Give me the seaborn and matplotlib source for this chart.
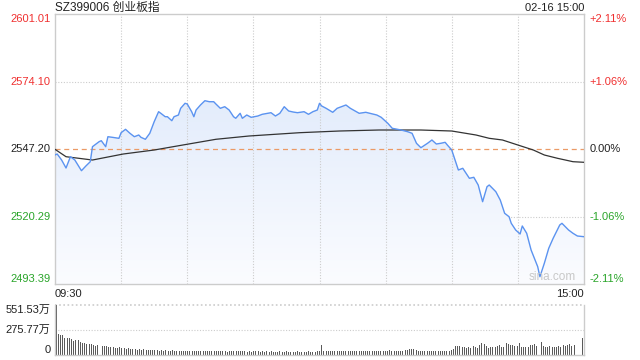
"""
Intraday chart: SZ399006 创业板指 (price + avg line + volume)
"""

import numpy as np
import pandas as pd
import matplotlib
matplotlib.use("Agg")
import matplotlib.pyplot as plt
import seaborn as sns
from matplotlib.colors import LinearSegmentedColormap
from matplotlib.patches import Polygon

# ---- data ----
title = "SZ399006 创业板指"
stamp = "02-16 15:00"
prev_close = 2547.20
y_low, y_high = 2493.39, 2601.01
left_ticks = [2601.01, 2574.10, 2547.20, 2520.29, 2493.39]
right_ticks = ["+2.11%", "+1.06%", "0.00%", "-1.06%", "-2.11%"]
vol_ticks = [551.53, 275.77, 0]
vol_tick_labels = ["551.53万", "275.77万", "0"]

# minute index: 0 = 09:30, 120 = 11:30/13:00, 240 = 15:00
price_min = [0, 1, 3, 5, 7, 9, 12, 14, 16, 17,
             20, 21, 23, 24, 26, 29, 30, 32, 34, 36,
             38, 39, 41, 43, 45, 47, 48, 50, 51, 53,
             54, 56, 57, 59, 60, 62, 63, 64, 66, 68,
             70, 72, 73, 75, 77, 79, 81, 82, 84, 85,
             87, 89, 92, 94, 98, 100, 102, 104, 106, 108,
             110, 113, 115, 117, 119, 120, 121, 123, 126, 128,
             132, 134, 138, 141, 146, 148, 151, 153, 157, 160,
             162, 164, 166, 169, 171, 173, 175, 177, 178, 180,
             181, 183, 185, 188, 190, 192, 194, 196, 197, 200,
             202, 204, 206, 207, 209, 211, 212, 214, 216, 219,
             220, 222, 224, 226, 229, 230, 233, 235, 237, 240]
price = [2544.81, 2545.21, 2542.81, 2539.63, 2544.13, 2542.81, 2538.55, 2540.42, 2542.14, 2548.12,
         2550.11, 2550.51, 2548.12, 2552.10, 2551.86, 2551.46, 2553.70, 2555.05, 2553.46, 2552.10,
         2552.78, 2551.86, 2551.07, 2553.46, 2558.08, 2562.07, 2561.43, 2560.07, 2560.07, 2558.48,
         2560.07, 2560.75, 2563.42, 2565.42, 2565.14, 2562.07, 2560.07, 2562.74, 2564.74, 2566.45,
         2566.05, 2566.05, 2565.14, 2563.42, 2564.06, 2562.74, 2560.07, 2559.44, 2561.43, 2559.44,
         2560.75, 2559.83, 2560.35, 2561.03, 2561.67, 2560.35, 2561.43, 2564.06, 2562.35, 2561.95,
         2561.67, 2562.07, 2561.03, 2562.07, 2562.74, 2565.42, 2564.34, 2563.42, 2561.83, 2563.42,
         2564.74, 2563.42, 2561.43, 2561.83, 2560.75, 2559.83, 2557.44, 2555.45, 2554.77, 2554.09,
         2553.46, 2549.47, 2547.72, 2549.47, 2550.79, 2549.19, 2549.47, 2549.87, 2548.79, 2546.80,
         2544.13, 2538.83, 2539.51, 2535.52, 2535.92, 2532.85, 2526.19, 2532.17, 2532.85, 2530.18,
         2526.87, 2521.57, 2520.21, 2517.58, 2514.91, 2513.32, 2516.51, 2513.60, 2506.94, 2500.28,
         2496.30, 2501.64, 2507.62, 2511.60, 2516.91, 2517.58, 2514.91, 2513.60, 2512.52, 2512.24]

avg_min = [0, 5, 17, 31, 45, 58, 73, 88, 111, 129, 147,
           166, 180, 191, 197, 203, 210, 217, 222, 228, 235, 240]
avg_price = [2547.08, 2544.13, 2542.81, 2545.21, 2546.80, 2548.79, 2551.07, 2552.38, 2553.70, 2554.37, 2554.77,
             2554.77, 2554.37, 2552.78, 2551.46, 2550.79, 2548.79, 2546.80, 2544.81, 2543.49, 2542.14, 2541.90]

# volume per minute, in 万
volume = [551.53, 235, 222, 220, 192, 192, 188, 175, 155, 160,
          160, 138, 132, 128, 118, 122, 118, 112, 100, 108,
          104, 99, 96, 104, 92, 86, 92, 82, 78, 84,
          80, 74, 70, 78, 66, 62, 70, 60, 64, 58,
          62, 56, 54, 58, 52, 50, 55, 48, 52, 47,
          50, 46, 44, 50, 47, 42, 46, 44, 41, 47,
          44, 42, 46, 41, 43, 48, 40, 43, 41, 44,
          42, 40, 44, 41, 46, 39, 43, 44, 38, 42,
          41, 44, 39, 42, 40, 45, 43, 38, 41, 37,
          40, 43, 39, 37, 41, 38, 42, 36, 39, 37,
          38, 35, 40, 37, 36, 39, 35, 38, 37, 36,
          39, 37, 35, 38, 36, 40, 37, 35, 38, 41,
          43,
          110, 45, 41, 48, 39, 43, 41, 45, 42, 44,
          41, 43, 45, 42, 40, 44, 43, 41, 45, 42,
          43, 41, 44, 42, 45, 41, 43, 40, 44, 49,
          45, 52, 47, 43, 49, 45, 42, 47, 55, 59,
          63, 67, 61, 55, 49, 45, 42, 47, 41, 44,
          49, 45, 41, 43, 39, 42, 45, 41, 44, 55,
          70, 104, 98, 102, 90, 83, 79, 87, 81, 95,
          89, 76, 112, 130, 126, 104, 81, 90, 87, 83,
          102, 106, 89, 93, 134, 126, 112, 106, 100, 95,
          132, 91, 85, 83, 89, 106, 112, 118, 102, 150,
          142, 99, 93, 91, 95, 89, 85, 91, 99, 93,
          106, 102, 112, 118, 95, 115, 3, 2, 3, 190]

# ---- style ----
RED = "#f03030"
GREEN = "#2aa52a"
GRID = "#cccccc"
BLUE = "#5b93f0"
TXT = "#222222"

sns.set_theme(style="white")
plt.rcParams["font.family"] = ["Liberation Sans", "Noto Sans CJK SC", "DejaVu Sans"]
plt.rcParams["axes.unicode_minus"] = False

df_price = pd.DataFrame({"minute": price_min, "price": price})
df_avg = pd.DataFrame({"minute": avg_min, "price": avg_price})
df_vol = pd.DataFrame({"minute": np.arange(len(volume)), "vol": volume})

fig = plt.figure(figsize=(6.4, 3.6), dpi=100)
ax = fig.add_axes([55 / 640, 1 - 284 / 360, 529 / 640, 270 / 360])
axv = fig.add_axes([55 / 640, 1 - 355 / 360, 529 / 640, 50 / 360])

# ---- price panel ----
ax.set_xlim(0, 240)
ax.set_ylim(y_low, y_high)

# gradient fill under the price line
verts = [(price_min[0], y_low)] + list(zip(price_min, price)) + [(price_min[-1], y_low)]
poly = Polygon(verts, closed=True, facecolor="none", edgecolor="none")
ax.add_patch(poly)
cmap = LinearSegmentedColormap.from_list("fillgrad", ["#fbfcff", "#d8e5fa"])
grad = np.linspace(0, 1, 256).reshape(-1, 1)
im = ax.imshow(grad, cmap=cmap, aspect="auto", origin="lower",
               extent=[0, 240, y_low, y_high], zorder=1)
im.set_clip_path(poly)

# grid
for v in left_ticks[1:-1]:
    if v == prev_close:
        continue
    ax.axhline(v, color=GRID, ls=(0, (1, 1.5)), lw=0.8, zorder=0.5)
for m in range(30, 240, 30):
    ax.axvline(m, color=GRID, ls=(0, (1, 1.5)), lw=0.8, zorder=2)
ax.axhline(prev_close, color="#eb9a66", ls=(0, (4, 3)), lw=0.9, zorder=2)

sns.lineplot(data=df_avg, x="minute", y="price", ax=ax, color="#333333", lw=0.9, zorder=3)
sns.lineplot(data=df_price, x="minute", y="price", ax=ax, color=BLUE, lw=1.0, zorder=4)

ax.set_xticks([])
ax.set_yticks([])
ax.set_xlabel("")
ax.set_ylabel("")
for s in ax.spines.values():
    s.set_color(GRID)
    s.set_linewidth(1)

tick_colors = [RED, RED, TXT, GREEN, GREEN]
vas = ["top", "center", "center", "center", "bottom"]
ytr = ax.get_yaxis_transform()
for v, pct, c, va in zip(left_ticks, right_ticks, tick_colors, vas):
    ax.text(-0.008, v, f"{v:.2f}", transform=ytr, ha="right", va=va, color=c, fontsize=8)
    ax.text(1.011, v, pct, transform=ytr, ha="left", va=va, color=c, fontsize=8)

fig.text(55 / 640, 1 - 8 / 360, title, ha="left", va="center", fontsize=8.5, color=TXT)
fig.text(584 / 640, 1 - 8 / 360, stamp, ha="right", va="center", fontsize=8, color=TXT)
fig.text(55 / 640, 1 - 294 / 360, "09:30", ha="left", va="center", fontsize=8, color=TXT)
fig.text(584 / 640, 1 - 294 / 360, "15:00", ha="right", va="center", fontsize=8, color=TXT)
ax.text(0.985, 0.004, "sina.com", transform=ax.transAxes, ha="right", va="bottom",
        fontsize=8.5, color="#c8c8c8", zorder=5)

# ---- volume panel ----
sns.barplot(data=df_vol, x="minute", y="vol", ax=axv, native_scale=True,
            color="#5a5a5a", width=0.45, errorbar=None, saturation=1, linewidth=0)
for p in axv.patches:
    p.set_antialiased(False)
axv.set_xlim(-0.5, 240.5)
axv.set_ylim(0, vol_ticks[0])
axv.axhline(vol_ticks[1], color=GRID, ls=(0, (1, 1.5)), lw=0.8, zorder=0)
axv.axhline(vol_ticks[0], color=GRID, ls=(0, (1, 1.5)), lw=1.2, zorder=0, clip_on=False)
axv.set_xticks([])
axv.set_yticks([])
axv.set_xlabel("")
axv.set_ylabel("")
axv.spines["top"].set_visible(False)
for k in ["left", "right", "bottom"]:
    axv.spines[k].set_color(GRID)
    axv.spines[k].set_linewidth(1)

vtr = axv.get_yaxis_transform()
for v, lab, va in zip(vol_ticks, vol_tick_labels, ["top", "center", "bottom"]):
    axv.text(-0.008, v, lab, transform=vtr, ha="right", va=va, fontsize=8, color=TXT)

fig.savefig("out.png", dpi=100)
